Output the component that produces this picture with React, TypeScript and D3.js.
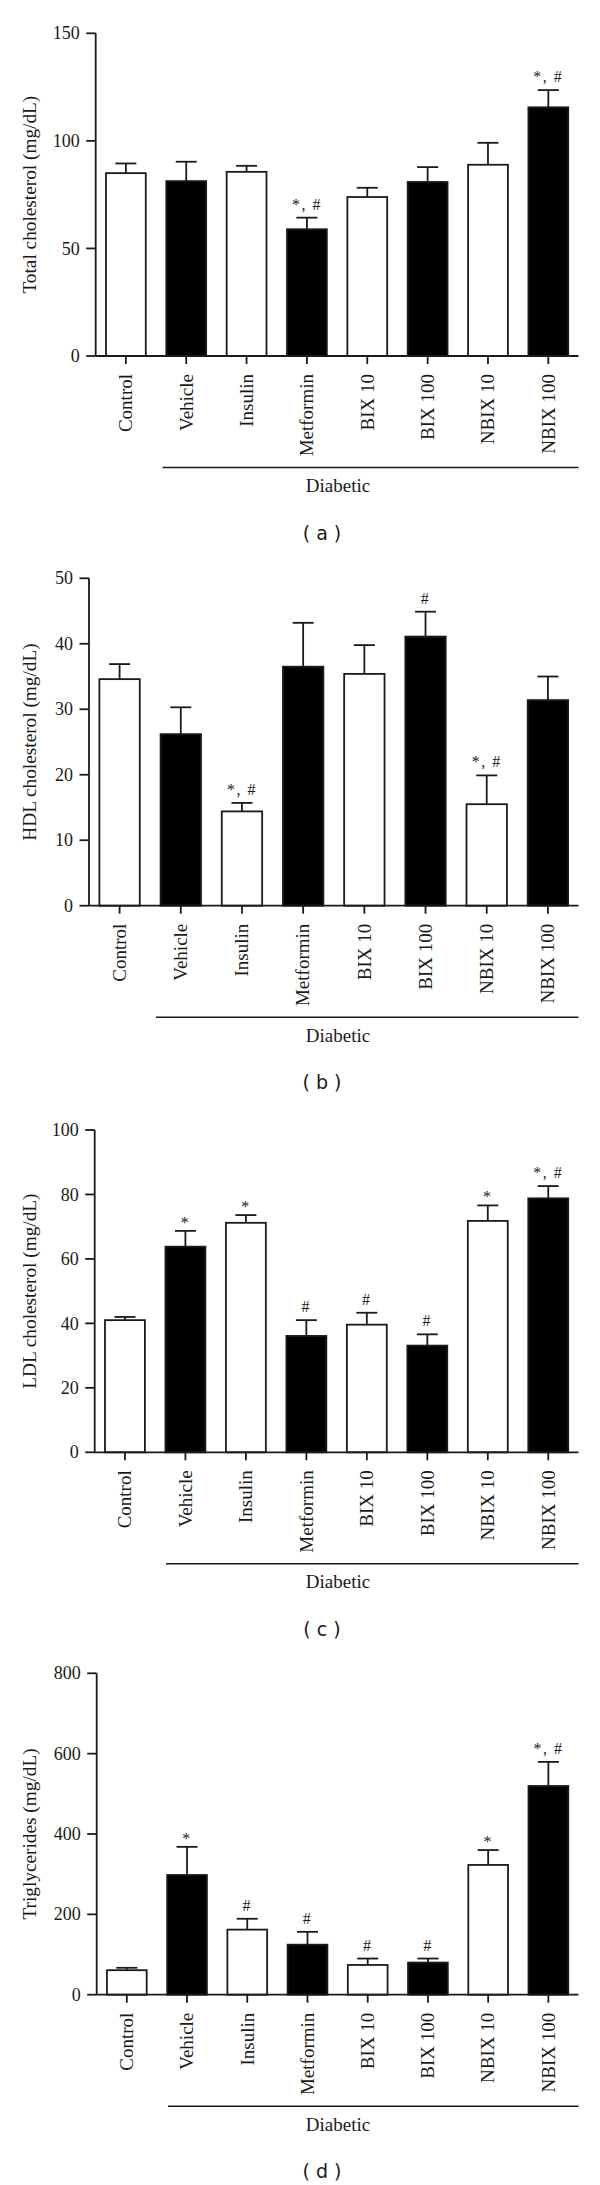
import React from "react";
import * as d3 from "d3";

const categories = ["Control", "Vehicle", "Insulin", "Metformin", "BIX 10", "BIX 100", "NBIX 10", "NBIX 100"];

const totalMean = [85.0, 81.3, 85.6, 58.9, 73.9, 80.9, 88.9, 115.6];
const totalErr = [4.5, 9.0, 2.8, 5.4, 4.3, 6.9, 10.2, 8.0];
const totalSig = ["", "", "", "*, #", "", "", "", "*, #"];
const totalTicks = [0, 50, 100, 150];

const hdlMean = [34.6, 26.2, 14.4, 36.5, 35.4, 41.1, 15.5, 31.4];
const hdlErr = [2.3, 4.1, 1.3, 6.7, 4.4, 3.8, 4.4, 3.6];
const hdlSig = ["", "", "*, #", "", "", "#", "*, #", ""];
const hdlTicks = [0, 10, 20, 30, 40, 50];

const ldlMean = [41.0, 63.8, 71.2, 36.1, 39.6, 33.1, 71.8, 78.8];
const ldlErr = [1.0, 4.9, 2.4, 4.9, 3.7, 3.5, 4.8, 3.8];
const ldlSig = ["", "*", "*", "#", "#", "#", "*", "*, #"];
const ldlTicks = [0, 20, 40, 60, 80, 100];

const tgMean = [61, 298, 162, 124.5, 74, 80, 323, 519.5];
const tgErr = [6, 70, 27, 32, 16, 10, 37, 60];
const tgSig = ["", "*", "#", "#", "#", "#", "*", "*, #"];
const tgTicks = [0, 200, 400, 600, 800];

const groupLabel = "Diabetic";

const SERIF = "'Liberation Serif', 'Times New Roman', serif";
const SANS = "'DejaVu Sans', Verdana, sans-serif";
const INK = "#1a1a1a";

const panels = [
  { tag: "( a )", title: "Total cholesterol (mg/dL)", means: totalMean, errs: totalErr, sig: totalSig, ticks: totalTicks, top: 33.3, base: 356, left: 95.7, lineStart: 162.5 },
  { tag: "( b )", title: "HDL cholesterol (mg/dL)", means: hdlMean, errs: hdlErr, sig: hdlSig, ticks: hdlTicks, top: 578.3, base: 905.7, left: 89, lineStart: 156 },
  { tag: "( c )", title: "LDL cholesterol (mg/dL)", means: ldlMean, errs: ldlErr, sig: ldlSig, ticks: ldlTicks, top: 1130, base: 1452.3, left: 94.7, lineStart: 166 },
  { tag: "( d )", title: "Triglycerides (mg/dL)", means: tgMean, errs: tgErr, sig: tgSig, ticks: tgTicks, top: 1673.3, base: 1994.7, left: 96.7, lineStart: 168 },
];

const RIGHT = 578.5;

function Panel({ p }: { p: any }) {
  const x = d3.scaleBand<string>().domain(categories).range([p.left, RIGHT]).paddingInner(0.34).paddingOuter(0.17);
  const maxT = p.ticks[p.ticks.length - 1];
  const y = d3.scaleLinear().domain([0, maxT]).range([p.base, p.top]);
  const bw = x.bandwidth();
  const cap = 10.5;
  return (
    <g>
      {categories.map((c, i) => {
        const x0 = x(c)!;
        const yv = y(p.means[i]);
        const filled = i % 2 === 1;
        return (
          <rect key={"b" + i} x={x0} y={yv} width={bw} height={p.base - yv}
            fill={filled ? "#000" : "#fff"} stroke={INK} strokeWidth={1.8} />
        );
      })}
      {categories.map((c, i) => {
        const cx = x(c)! + bw / 2;
        const yv = y(p.means[i]);
        const ye = y(p.means[i] + p.errs[i]);
        return (
          <g key={"e" + i} stroke={INK} strokeWidth={1.8}>
            <line x1={cx} x2={cx} y1={yv} y2={ye} />
            <line x1={cx - cap} x2={cx + cap} y1={ye} y2={ye} />
          </g>
        );
      })}
      {categories.map((c, i) => {
        if (!p.sig[i]) return null;
        const cx = x(c)! + bw / 2;
        const ye = y(p.means[i] + p.errs[i]);
        const gap = p.sig[i] === "*" ? 3 : 8;
        return (
          <text key={"s" + i} x={cx} y={ye - gap} textAnchor="middle" fontFamily={SERIF}
            fontSize={16} letterSpacing={1.5} fill={INK}>{p.sig[i]}</text>
        );
      })}
      <line x1={p.left} x2={p.left} y1={p.base} y2={p.top} stroke={INK} strokeWidth={1.8} />
      {p.ticks.map((t: number) => (
        <g key={"t" + t}>
          <line x1={p.left - 9.5} x2={p.left} y1={y(t)} y2={y(t)} stroke={INK} strokeWidth={1.8} />
          <text x={p.left - 16} y={y(t)} dy="0.34em" textAnchor="end" fontFamily={SERIF} fontSize={18} fill={INK}>{t}</text>
        </g>
      ))}
      <line x1={p.left} x2={RIGHT} y1={p.base} y2={p.base} stroke={INK} strokeWidth={1.8} />
      {categories.map((c, i) => {
        const cx = x(c)! + bw / 2;
        return (
          <g key={"x" + i}>
            <line x1={cx} x2={cx} y1={p.base} y2={p.base + 8} stroke={INK} strokeWidth={1.8} />
            <text transform={`translate(${cx},${p.base + 18}) rotate(-90)`} dy="0.33em" textAnchor="end"
              fontFamily={SERIF} fontSize={19} fill={INK}>{c}</text>
          </g>
        );
      })}
      <text transform={`translate(36,${(p.top + p.base) / 2}) rotate(-90)`} textAnchor="middle"
        fontFamily={SERIF} fontSize={19.3} fill={INK}>{p.title}</text>
      <line x1={p.lineStart} x2={RIGHT} y1={p.base + 111.5} y2={p.base + 111.5} stroke={INK} strokeWidth={1.6} />
      <text x={338} y={p.base + 136} textAnchor="middle" fontFamily={SERIF} fontSize={19} fill={INK}>{groupLabel}</text>
      <text x={322} y={p.base + 183.5} textAnchor="middle" fontFamily={SANS} fontSize={19} fill={INK}>{p.tag}</text>
    </g>
  );
}

export default function App() {
  return (
    <svg width={600} height={2185} style={{ position: "absolute", left: 0, top: 0, background: "#fff" }}>
      <rect x={0} y={0} width={600} height={2185} fill="#fff" />
      {panels.map((p, i) => <Panel key={i} p={p} />)}
    </svg>
  );
}
